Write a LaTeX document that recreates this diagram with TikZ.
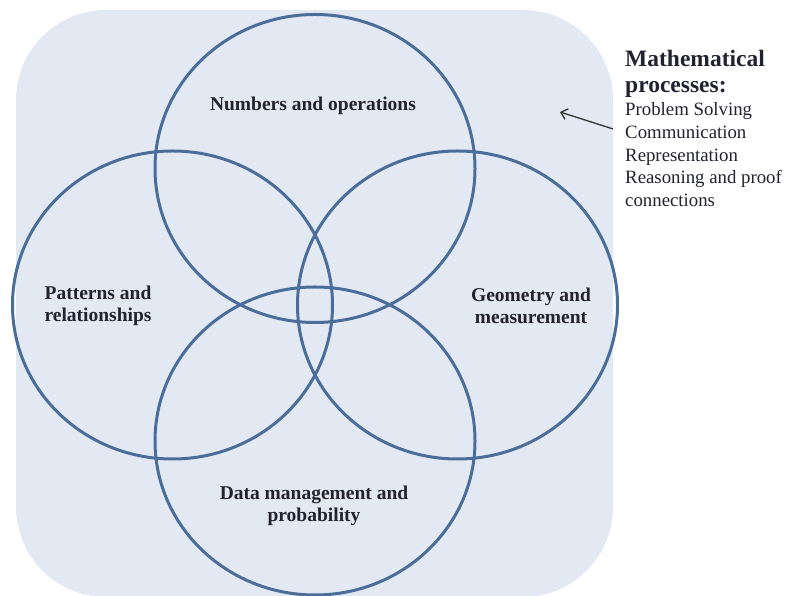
\documentclass[tikz,border=0pt]{standalone}
\usepackage{fontspec}
\setmainfont{Liberation Serif}
\usepackage{tikz}
\usetikzlibrary{shapes}
\usetikzlibrary{arrows.meta}
\usepackage{xcolor}
\definecolor{paleblue}{HTML}{E3E9F3}
\definecolor{ringblue}{HTML}{4A6D9A}
\definecolor{inkdark}{HTML}{222230}

\begin{document}
\begin{tikzpicture}[x=1pt,y=1pt,
  ring/.style={draw=ringblue,line width=3pt,ellipse,minimum width=320pt,minimum height=308pt},
  lbl/.style={align=center,text=inkdark,font=\fontsize{19.5}{21.5}\selectfont\bfseries}]
\useasboundingbox (0,0) rectangle (794,596);
\fill[paleblue,rounded corners=90pt] (16,-1) rectangle (613,586);
\node[ring] (num) at (315,427.5) {};
\node[ring] (pat) at (172.5,291) {};
\node[ring] (geo) at (457.5,291) {};
\node[ring] (data) at (315,155) {};
\node[lbl] (numtxt) at (313,490) {Numbers and operations};
\node[lbl] (pattxt) at (98,290) {Patterns and\\relationships};
\node[lbl] (geotxt) at (531,290) {Geometry and\\measurement};
\node[lbl] (datatxt) at (314,90) {Data management and\\probability};
\node[anchor=north west,inner sep=0,align=left,text=inkdark,font=\fontsize{23.5}{26}\selectfont\bfseries] (proc) at (625,546) {Mathematical\\processes:};
\foreach \t [count=\i] in {Problem Solving,Communication,Representation,Reasoning and proof,connections} {
	\node[anchor=base west,inner sep=0,text=inkdark,font=\fontsize{18.8}{22}\selectfont] (l\i) at (625,{480-22.6*(\i-1)}) {\t};
}
\coordinate (head) at (560,484);
\draw[-{Straight Barb[length=6pt,width=11pt]},line width=1.3pt,black!80] ([xshift=-12pt,yshift=-3pt]l2.north west) -- (head);
\end{tikzpicture}
\end{document}
